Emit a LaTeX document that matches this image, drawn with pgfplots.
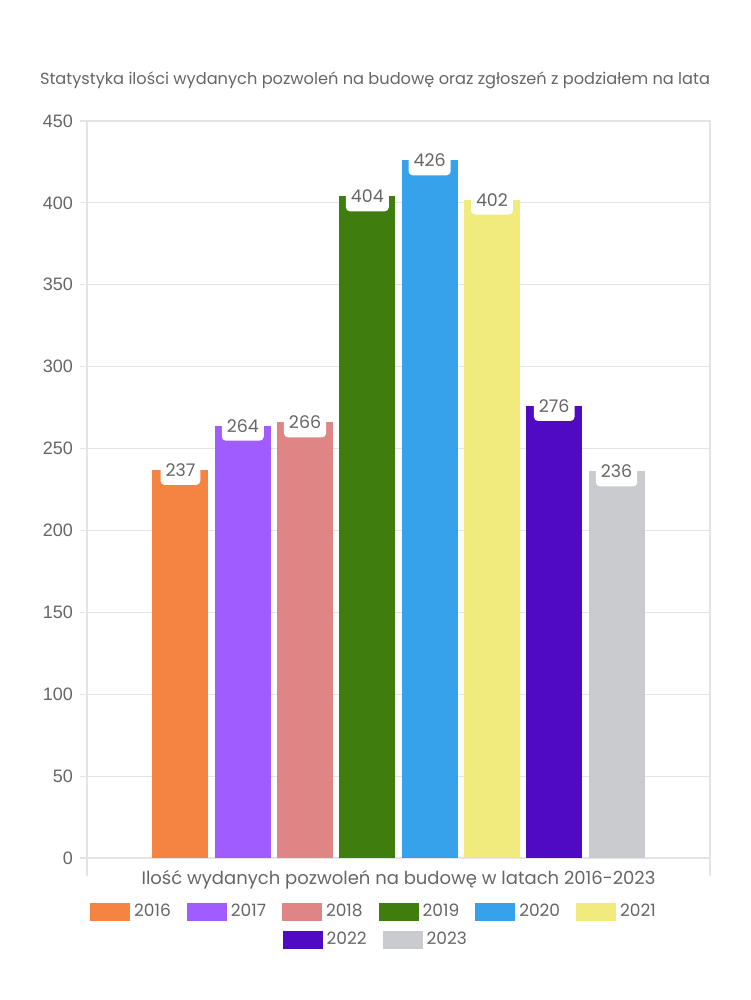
\documentclass[border=0pt]{standalone}
\usepackage{pgfplots}
\pgfplotsset{compat=1.18}
\usepackage{fontspec}
\setmainfont{Poppins}
\newfontfamily\tickfont{Liberation Sans}
\definecolor{c2016}{RGB}{245,132,66}
\definecolor{c2017}{RGB}{160,92,255}
\definecolor{c2018}{RGB}{224,133,133}
\definecolor{c2019}{RGB}{62,125,14}
\definecolor{c2020}{RGB}{54,162,235}
\definecolor{c2021}{RGB}{240,235,124}
\definecolor{c2022}{RGB}{81,10,196}
\definecolor{c2023}{RGB}{202,203,207}
\definecolor{gridgray}{RGB}{228,228,228}
\definecolor{txtgray}{RGB}{102,102,102}
\pgfplotsset{
  swatch/.style={legend image code/.code={\fill[##1] (0pt,-4.5pt) rectangle (20pt,4.5pt);}},
  mylegend/.style={legend style={draw=none, fill=none, font=\fontsize{8.5}{9}\selectfont, text=txtgray,
      /tikz/every even column/.append style={column sep=6pt},
      /tikz/every odd column/.append style={column sep=0pt},
      inner sep=0pt, row sep=5pt}},
}
\begin{document}
\begin{tikzpicture}
\path[use as bounding box] (0,0) rectangle (375pt,500pt);
\node[text=txtgray, font=\fontsize{8.1}{9}\selectfont] at (187.5pt,460pt) {Statystyka ilości wydanych pozwoleń na budowę oraz zgłoszeń z podziałem na lata};
\begin{axis}[
  at={(43.5pt,71pt)}, anchor=south west,
  scale only axis, width=311.5pt, height=368.5pt,
  xmin=-1.5, xmax=8.5, ymin=0, ymax=450,
  ytick={0,50,...,450},
  xtick={-1.5,8.5}, xticklabels={},
  xmajorgrids, ymajorgrids,
  grid style={draw=gridgray, line width=0.6pt},
  axis line style={draw=gridgray, line width=0.6pt},
  tick style={draw=gridgray, line width=0.6pt},
  tick align=outside, ytick pos=left, xtick pos=bottom,
  major tick length=3.5pt,
  x tick style={/pgfplots/major tick length=9pt},
  /pgf/number format/assume math mode=true,
  yticklabel style={font=\tickfont\fontsize{9}{10}\selectfont, text=txtgray},
  xlabel={Ilość wydanych pozwoleń na budowę w latach 2016-2023},
  xlabel style={at={(axis description cs:0.5,-0.0299)}, anchor=center, text=txtgray, font=\fontsize{9}{10}\selectfont},
  ybar, bar width=0.9,
  nodes near coords,
  every node near coord/.append style={anchor=center, fill=white, rounded corners=2pt,
     text=txtgray, font=\fontsize{8.7}{9}\selectfont, inner xsep=2.5pt, minimum height=15pt, yshift=0pt},
  mylegend, swatch, legend columns=6,
  legend style={at={(axis description cs:0.4623,-0.0733)}, anchor=center},
]
\addplot[fill=c2016, draw=none, bar shift=0pt] coordinates {(0,237)}; \addlegendentry{2016}
\addplot[fill=c2017, draw=none, bar shift=0pt] coordinates {(1,264)}; \addlegendentry{2017}
\addplot[fill=c2018, draw=none, bar shift=0pt] coordinates {(2,266)}; \addlegendentry{2018}
\addplot[fill=c2019, draw=none, bar shift=0pt] coordinates {(3,404)}; \addlegendentry{2019}
\addplot[fill=c2020, draw=none, bar shift=0pt] coordinates {(4,426)}; \addlegendentry{2020}
\addplot[fill=c2021, draw=none, bar shift=0pt] coordinates {(5,402)}; \addlegendentry{2021}
\addplot[fill=c2022, draw=none, bar shift=0pt, forget plot] coordinates {(6,276)};
\addplot[fill=c2023, draw=none, bar shift=0pt, forget plot] coordinates {(7,236)};
\end{axis}
\begin{axis}[
  at={(43.5pt,71pt)}, anchor=south west,
  scale only axis, width=311.5pt, height=368.5pt,
  xmin=0, xmax=1, ymin=0, ymax=1, hide axis,
  mylegend, swatch, legend columns=2,
  legend style={at={(axis description cs:0.465,-0.1113)}, anchor=center},
]
\addlegendimage{fill=c2022, draw=none}\addlegendentry{2022}
\addlegendimage{fill=c2023, draw=none}\addlegendentry{2023}
\end{axis}
\end{tikzpicture}
\end{document}
